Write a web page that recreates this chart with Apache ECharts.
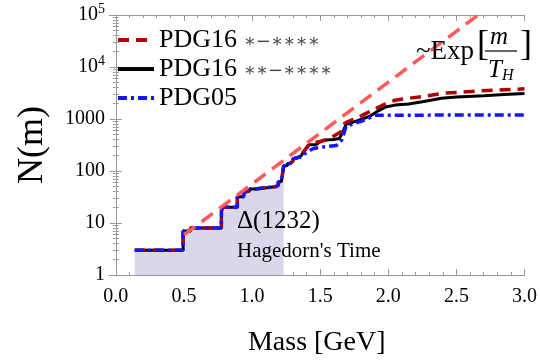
<!DOCTYPE html>
<html>
<head>
<meta charset="utf-8">
<script src="https://cdn.jsdelivr.net/npm/echarts@6/dist/echarts.min.js"></script>
<style>
  html, body { margin: 0; padding: 0; background: #fff; }
  #chart { width: 540px; height: 362px; }
</style>
</head>
<body>
<div id="chart"></div>
<script>
// cumulative hadron spectrum N(m)
// shared low-mass part (all three lists agree here)
const lowSteps = [
  [0.139, 3], [0.494, 3], [0.494, 7], [0.548, 7], [0.548, 8], [0.775, 8], [0.775, 17],
  [0.782, 17], [0.782, 20], [0.892, 20], [0.892, 32], [0.938, 32], [0.938, 40],
  [0.958, 40], [0.958, 41], [0.98, 41], [0.98, 45], [1.02, 45], [1.02, 48],
  [1.116, 48], [1.116, 50], [1.17, 50], [1.17, 53], [1.193, 53], [1.193, 62],
  [1.215, 62], [1.232, 125]
];
const midSteps = [
  [1.26, 128], [1.26, 140], [1.28, 140], [1.28, 150], [1.3, 155], [1.3, 170], [1.33, 180]
];
const pdg16All = [
  [1.36, 200], [1.38, 240], [1.42, 330], [1.45, 345], [1.5, 370], [1.52, 380], [1.57, 430],
  [1.6, 470], [1.65, 560], [1.67, 800], [1.7, 880], [1.75, 1000], [1.8, 1150], [1.89, 1500],
  [1.95, 1800], [2.05, 2300], [2.15, 2500], [2.25, 2700], [2.42, 3150], [2.66, 3450],
  [2.8, 3600], [3.0, 3800]
];
const pdg16Conf = [
  [1.36, 195], [1.38, 235], [1.42, 320], [1.47, 325], [1.52, 390], [1.6, 405], [1.64, 420],
  [1.66, 520], [1.69, 790], [1.75, 880], [1.81, 1000], [1.87, 1150], [1.93, 1450],
  [1.98, 1700], [2.05, 1850], [2.15, 1950], [2.25, 2150], [2.39, 2500], [2.5, 2650],
  [2.7, 2800], [2.85, 2950], [3.0, 3100]
];
const pdg05 = [
  [1.36, 185], [1.4, 230], [1.45, 270], [1.5, 285], [1.55, 295], [1.62, 310], [1.66, 400],
  [1.69, 720], [1.75, 820], [1.8, 900], [1.86, 1050], [1.91, 1180], [3.0, 1200]
];
// Hagedorn exponential fit, straight on the log axis
const hagedornFit = [[0.5, 5.9], [2.66, 100000]];

const xMajor = [0, 0.5, 1.0, 1.5, 2.0, 2.5, 3.0];
const xMinor = [];
for (let i = 0; i <= 30; i++) if (i % 5) xMinor.push(i / 10);
const yMajor = [1, 10, 100, 1000, 10000, 100000];
const yMinor = [];
for (let d = 1; d <= 10000; d *= 10) for (let k = 2; k <= 9; k++) yMinor.push(k * d);

const serif = 'Liberation Serif';
const frame = '#999';

const chart = echarts.init(document.getElementById('chart'));

function xAx(pos, ticks, len, opts) {
  return Object.assign({
    type: 'value', min: -0.05, max: 3.0, position: pos, gridIndex: 0,
    axisLine: { show: true, lineStyle: { color: frame, width: 1 } },
    axisTick: { show: true, inside: true, length: len, customValues: ticks, lineStyle: { color: frame } },
    axisLabel: { show: false },
    splitLine: { show: false }
  }, opts || {});
}
function yAx(pos, ticks, len, opts) {
  return Object.assign({
    type: 'log', logBase: 10, min: 1, max: 100000, position: pos, gridIndex: 0,
    axisLine: { show: true, lineStyle: { color: frame, width: 1 } },
    axisTick: { show: true, inside: true, length: len, customValues: ticks, lineStyle: { color: frame } },
    axisLabel: { show: false },
    splitLine: { show: false }
  }, opts || {});
}

const option = {
  animation: false,
  backgroundColor: '#fff',
  grid: { left: 109, right: 10, top: 15, bottom: 85 },
  legend: {
    orient: 'vertical', left: 111, top: 22,
    itemWidth: 36, itemHeight: 14, itemGap: 3,
    itemStyle: { opacity: 0 },
    lineStyle: { width: 4 },
    data: ['PDG16 a', 'PDG16 b', 'PDG05'],
    textStyle: {
      fontFamily: serif, fontSize: 26, lineHeight: 23, color: '#000',
      rich: { s: { fontFamily: 'DejaVu Serif', fontSize: 18, color: '#444', padding: [4, 0, 0, 0] } }
    },
    formatter: function (n) {
      if (n === 'PDG16 a') return 'PDG16 {s|∗−∗∗∗∗}';
      if (n === 'PDG16 b') return 'PDG16 {s|∗∗−∗∗∗∗}';
      return 'PDG05';
    }
  },
  xAxis: [
    xAx('bottom', xMajor, 6, {
      name: 'Mass [GeV]', nameLocation: 'middle', nameGap: 54,
      nameTextStyle: { fontFamily: serif, fontSize: 28, color: '#000' },
      axisLabel: {
        show: true, customValues: xMajor, margin: 12,
        fontFamily: serif, fontSize: 20, color: '#000',
        formatter: v => v.toFixed(1)
      }
    }),
    xAx('bottom', xMinor, 3, { axisLine: { show: false } }),
    xAx('top', xMajor, 6),
    xAx('top', xMinor, 3, { axisLine: { show: false } })
  ],
  yAxis: [
    yAx('left', yMajor, 6, {
      name: 'N(m)', nameLocation: 'middle', nameGap: 58, nameRotate: 90,
      nameTextStyle: { fontFamily: serif, fontSize: 36, color: '#000' },
      axisLabel: {
        show: true, customValues: yMajor, margin: 4,
        fontFamily: serif, fontSize: 20, color: '#000',
        formatter: function (v) {
          if (v >= 10000) return '10{s|' + Math.round(Math.log10(v)) + '}';
          return String(Math.round(v));
        },
        rich: { s: { fontFamily: serif, fontSize: 14, color: '#000', padding: [0, 0, 12, 0] } }
      }
    }),
    yAx('left', yMinor, 3, { axisLine: { show: false } }),
    yAx('right', yMajor, 6),
    yAx('right', yMinor, 3, { axisLine: { show: false } })
  ],
  graphic: [
    { type: 'text', z: 100, left: 237, top: 209, style: { text: 'Δ(1232)', fontFamily: serif, fontSize: 25, fill: '#000' } },
    { type: 'text', z: 100, left: 237, top: 241, style: { text: "Hagedorn's Time", fontFamily: serif, fontSize: 21, fill: '#000' } },
    { type: 'text', z: 100, left: 416, top: 38, style: { text: '~Exp', fontFamily: serif, fontSize: 27, fill: '#000' } },
    { type: 'text', z: 100, left: 477, top: 28, style: { text: '[', fontFamily: serif, fontSize: 36, fill: '#000' } },
    { type: 'text', z: 100, left: 520, top: 28, style: { text: ']', fontFamily: serif, fontSize: 36, fill: '#000' } },
    { type: 'text', z: 100, left: 490, top: 25, style: { text: 'm', fontFamily: serif, fontStyle: 'italic', fontSize: 25, fill: '#000' } },
    { type: 'line', z: 100, shape: { x1: 485, y1: 51, x2: 517, y2: 51 }, style: { stroke: '#000', lineWidth: 1.2 } },
    {
      type: 'text', z: 100, left: 488, top: 58,
      style: {
        text: 'T{h|H}', fontFamily: serif, fontStyle: 'italic', fontSize: 25, fill: '#000',
        rich: { h: { fontFamily: serif, fontStyle: 'italic', fontSize: 16, padding: [10, 0, 0, 0] } }
      }
    }
  ],
  series: [
    {
      name: 'shade', type: 'line', symbol: 'none', silent: true,
      data: lowSteps,
      lineStyle: { width: 0 },
      areaStyle: { color: '#d8d8ea', opacity: 1, origin: 'start' },
      z: 1
    },
    {
      name: 'PDG16 b', type: 'line', symbol: 'none',
      data: lowSteps.concat(midSteps, pdg16Conf),
      lineStyle: { color: '#000', width: 3 },
      itemStyle: { color: '#000' },
      z: 2
    },
    {
      name: 'PDG16 a', type: 'line', symbol: 'none',
      data: lowSteps.concat(midSteps, pdg16All),
      lineStyle: { color: '#b00000', width: 3.5, type: [11, 7] },
      itemStyle: { color: '#b00000' },
      z: 3
    },
    {
      name: 'PDG05', type: 'line', symbol: 'none',
      data: lowSteps.concat(midSteps, pdg05),
      lineStyle: { color: '#1414ff', width: 3.5, type: [9, 4, 3, 4] },
      itemStyle: { color: '#1414ff' },
      z: 4
    },
    {
      name: 'fit', type: 'line', symbol: 'none', silent: true,
      data: hagedornFit,
      lineStyle: { color: '#ff5a5a', width: 3.5, type: [14, 8] },
      z: 5
    }
  ]
};
chart.setOption(option);
</script>
</body>
</html>
